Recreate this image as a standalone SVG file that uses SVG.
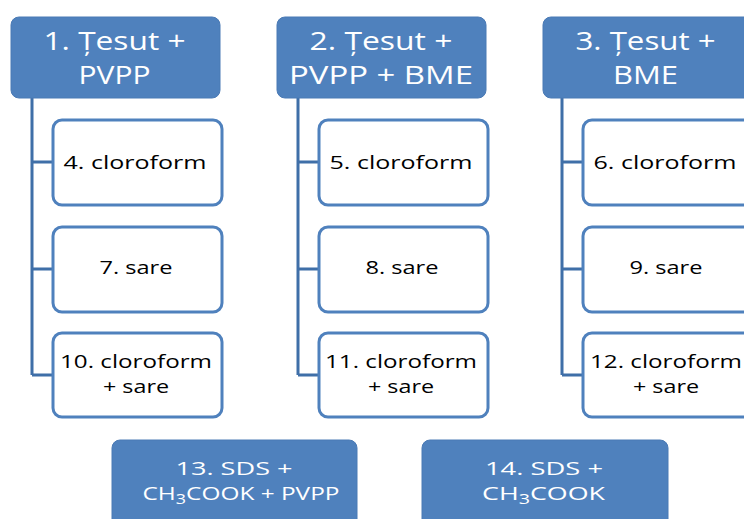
<svg xmlns="http://www.w3.org/2000/svg" width="744" height="519" viewBox="0 0 744 519">
<style>
.hdr{fill:#4F81BD;stroke:#4A7AB5;stroke-width:1}
.child{fill:#FFFFFF;stroke:#4F81BD;stroke-width:3}
text{text-anchor:middle;font-family:"Open Sans","Noto Sans",sans-serif}
.ht{font-size:25px;fill:#FFFFFF;font-weight:500}
.bt{font-size:19px;fill:#FFFFFF}
.ct{font-size:18px;font-weight:500;fill:#000000}
.con{fill:none;stroke:#3F6FA8;stroke-width:3}
</style>
<rect width="744" height="519" fill="#FFFFFF"/>
<g id="connectors">
<path class="con" d="M32,98 V375 M32,162 H53 M32,269 H53 M32,375 H53"/>
<path class="con" d="M298,98 V375 M298,162 H319 M298,269 H319 M298,375 H319"/>
<path class="con" d="M562,98 V375 M562,162 H583 M562,269 H583 M562,375 H583"/>
</g>
<g id="n1"><rect class="hdr" x="11" y="17" width="209" height="81" rx="8"/><text class="ht" x="114.5" y="50" textLength="142" lengthAdjust="spacingAndGlyphs">1. Țesut +</text><text class="ht" x="114.5" y="84" textLength="72" lengthAdjust="spacingAndGlyphs">PVPP</text></g>
<g id="n2"><rect class="hdr" x="277" y="17" width="209" height="81" rx="8"/><text class="ht" x="381" y="50" textLength="143" lengthAdjust="spacingAndGlyphs">2. Țesut +</text><text class="ht" x="381" y="84" textLength="184" lengthAdjust="spacingAndGlyphs">PVPP + BME</text></g>
<g id="n3"><rect class="hdr" x="543" y="17" width="209" height="81" rx="8"/><text class="ht" x="645.5" y="50" textLength="140" lengthAdjust="spacingAndGlyphs">3. Țesut +</text><text class="ht" x="645.5" y="84" textLength="65" lengthAdjust="spacingAndGlyphs">BME</text></g>
<g id="n4"><rect class="child" x="53" y="120" width="169" height="85" rx="9"/><text class="ct" x="135" y="169" textLength="143" lengthAdjust="spacingAndGlyphs">4. cloroform</text></g>
<g id="n7"><rect class="child" x="53" y="227" width="169" height="85" rx="9"/><text class="ct" x="136" y="274" textLength="73" lengthAdjust="spacingAndGlyphs">7. sare</text></g>
<g id="n10"><rect class="child" x="53" y="333" width="169" height="84" rx="9"/><text class="ct" x="136" y="368" textLength="152" lengthAdjust="spacingAndGlyphs">10. cloroform</text><text class="ct" x="136" y="393" textLength="66" lengthAdjust="spacingAndGlyphs">+ sare</text></g>
<g id="n5"><rect class="child" x="319" y="120" width="169" height="85" rx="9"/><text class="ct" x="401" y="169" textLength="143" lengthAdjust="spacingAndGlyphs">5. cloroform</text></g>
<g id="n8"><rect class="child" x="319" y="227" width="169" height="85" rx="9"/><text class="ct" x="402" y="274" textLength="73" lengthAdjust="spacingAndGlyphs">8. sare</text></g>
<g id="n11"><rect class="child" x="319" y="333" width="169" height="84" rx="9"/><text class="ct" x="401" y="368" textLength="152" lengthAdjust="spacingAndGlyphs">11. cloroform</text><text class="ct" x="401" y="393" textLength="66" lengthAdjust="spacingAndGlyphs">+ sare</text></g>
<g id="n6"><rect class="child" x="583" y="120" width="169" height="85" rx="9"/><text class="ct" x="665" y="169" textLength="143" lengthAdjust="spacingAndGlyphs">6. cloroform</text></g>
<g id="n9"><rect class="child" x="583" y="227" width="169" height="85" rx="9"/><text class="ct" x="666" y="274" textLength="73" lengthAdjust="spacingAndGlyphs">9. sare</text></g>
<g id="n12"><rect class="child" x="583" y="333" width="169" height="84" rx="9"/><text class="ct" x="666" y="368" textLength="152" lengthAdjust="spacingAndGlyphs">12. cloroform</text><text class="ct" x="666" y="393" textLength="66" lengthAdjust="spacingAndGlyphs">+ sare</text></g>
<g id="n13"><rect class="hdr" x="112" y="440" width="245" height="90" rx="8"/><text class="bt" x="234" y="475" textLength="117" lengthAdjust="spacingAndGlyphs">13. SDS +</text><text class="bt" x="241" y="500" textLength="197" lengthAdjust="spacingAndGlyphs">CH<tspan font-size="14" dy="4">3</tspan><tspan dy="-4">COOK + PVPP</tspan></text></g>
<g id="n14"><rect class="hdr" x="422" y="440" width="246" height="90" rx="8"/><text class="bt" x="544" y="475" textLength="118" lengthAdjust="spacingAndGlyphs">14. SDS +</text><text class="bt" x="543.5" y="500" textLength="123" lengthAdjust="spacingAndGlyphs">CH<tspan font-size="14" dy="4">3</tspan><tspan dy="-4">COOK</tspan></text></g>
</svg>
